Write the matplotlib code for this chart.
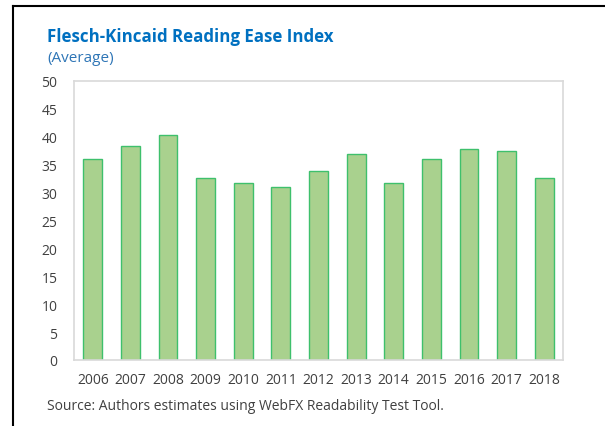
import matplotlib
matplotlib.use("Agg")
import matplotlib.pyplot as plt
from matplotlib.lines import Line2D

# datos
years = ['2006', '2007', '2008', '2009', '2010', '2011', '2012',
         '2013', '2014', '2015', '2016', '2017', '2018']
reading_ease = [36.1, 38.4, 40.4, 32.7, 31.8, 31.0, 33.9,
                37.0, 31.7, 36.0, 37.8, 37.5, 32.6]
y_ticks = [0, 5, 10, 15, 20, 25, 30, 35, 40, 45, 50]

plt.rcParams['font.family'] = ['Open Sans', 'DejaVu Sans']

fig = plt.figure(figsize=(6.05, 4.27), dpi=100)
ax = fig.add_axes([0.1223, 0.1546, 0.8083, 0.6534])

ax.bar(range(len(years)), reading_ease, width=0.5,
       color='#a9d18e', edgecolor='#3ec06c', linewidth=1)

ax.set_xlim(-0.5, len(years) - 0.5)
ax.set_ylim(0, 50)
ax.set_yticks(y_ticks)
ax.set_xticks(range(len(years)))
ax.set_xticklabels(years)
ax.tick_params(axis='both', length=0, labelsize=10, colors='#404040')
ax.tick_params(axis='y', pad=12)
ax.tick_params(axis='x', pad=9)
for s in ax.spines.values():
    s.set_color('#d9d9d9')
    s.set_linewidth(1.2)

# título y subtítulo
fig.text(47 / 605, 1 - 37 / 427, 'Flesch-Kincaid Reading Ease Index',
         fontsize=12.2, fontweight='bold', color='#0070c0', va='center')
fig.text(47 / 605, 1 - 59 / 427, '(Average)',
         fontsize=11, color='#2e75b6', va='center')
fig.text(47 / 605, 1 - 407 / 427,
         'Source: Authors estimates using WebFX Readability Test Tool.',
         fontsize=10, color='#404040', va='center')

# marco negro (arriba e izquierda)
fig.add_artist(Line2D([13 / 605, 1], [1 - 7 / 427, 1 - 7 / 427],
                      color='black', linewidth=1.5))
fig.add_artist(Line2D([13 / 605, 13 / 605], [0, 1 - 7 / 427],
                      color='black', linewidth=1.5))

fig.savefig('out.png', dpi=100)
